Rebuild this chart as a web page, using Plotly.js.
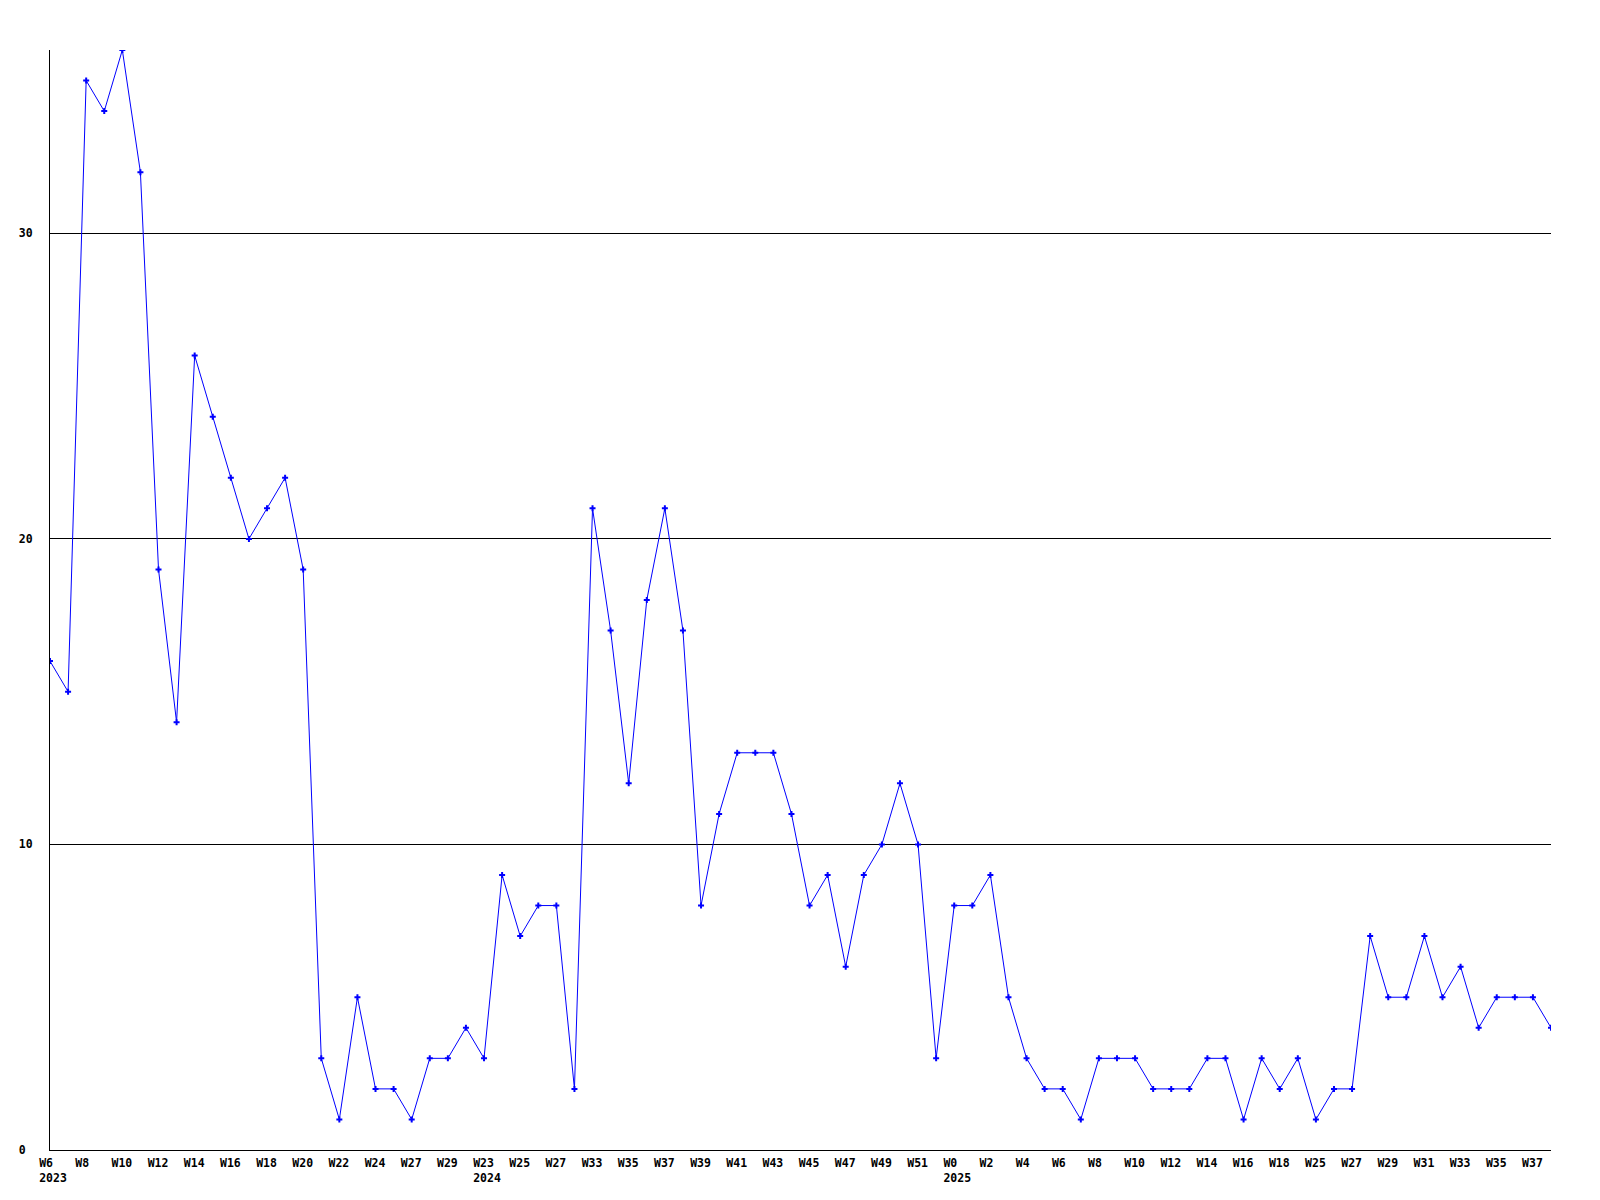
<!DOCTYPE html>
<html>
<head>
<meta charset="utf-8">
<script src="https://cdn.plot.ly/plotly-3.0.1.min.js"></script>
<style>html,body{margin:0;padding:0;background:#fff;}#chart{width:1600px;height:1200px;}</style>
</head>
<body>
<div id="chart"></div>
<script>
// Week labels for every point (odd, hidden ones estimated)
const weeks = [
  "W6","W7","W8","W9","W10","W11","W12","W13","W14","W15","W16","W17","W18","W19","W20","W21","W22","W23","W24","W25",
  "W27","W28","W29","W30",
  "W23","W24","W25","W26","W27","W28","W33","W34","W35","W36","W37","W38","W39","W40","W41","W42","W43","W44","W45","W46",
  "W47","W48","W49","W50","W51","W52",
  "W0","W1","W2","W3","W4","W5","W6","W7","W8","W9","W10","W11","W12","W13","W14","W15","W16","W17","W18","W19",
  "W25","W26","W27","W28","W29","W30","W31","W32","W33","W34","W35","W36","W37","W38"
];
// Year shown under the first labelled week of each year
const years = {0: "2023", 24: "2024", 50: "2025"};
const counts = [
  16,15,35,34,36,32,19,14,26,24,22,20,21,22,19,3,1,5,2,2,
  1,3,3,4,
  3,9,7,8,8,2,21,17,12,18,21,17,8,11,13,13,13,11,8,9,
  6,9,10,12,10,3,
  8,8,9,5,3,2,2,1,3,3,3,2,2,2,3,3,1,3,2,3,
  1,2,2,7,5,5,7,5,6,4,5,5,5,4
];
const yTicks = [0, 10, 20, 30];
const labelStep = 2;

const pad = (s, n) => s + "\u00a0".repeat(Math.max(0, n - s.length));
const xs = weeks.map((_, i) => i);
const tickvals = [], ticktext = [];
weeks.forEach((w, i) => {
  if (i % labelStep === 0) {
    tickvals.push(i);
    let t = pad(w, 4);
    if (years[i]) t += "<br>" + pad(years[i], 4);
    ticktext.push(t);
  }
});
const yText = yTicks.map(v => pad(String(v), 2));

const font = {family: "DejaVu Sans Mono, monospace", size: 11.5, color: "#000", weight: "bold"};

Plotly.newPlot("chart", [{
  x: xs, y: counts, type: "scatter", mode: "lines+markers",
  line: {color: "#0000ff", width: 1},
  marker: {color: "#0000ff", symbol: "cross", size: 5, line: {width: 0}},
  hoverinfo: "skip"
}], {
  width: 1600, height: 1200,
  margin: {l: 50, r: 49, t: 50, b: 50},
  paper_bgcolor: "#fff", plot_bgcolor: "#fff",
  showlegend: false,
  font: font,
  xaxis: {
    range: [0, weeks.length - 1], tickmode: "array", tickvals: tickvals, ticktext: ticktext,
    showgrid: false, zeroline: false, showline: true, linecolor: "#000", linewidth: 1,
    ticks: "", tickangle: 0, tickfont: font, ticklabelshift: 3, ticklabelstandoff: 2
  },
  yaxis: {
    range: [0, 36], tickmode: "array", tickvals: yTicks, ticktext: yText,
    showgrid: true, gridcolor: "#000", gridwidth: 1, zeroline: false,
    showline: true, linecolor: "#000", linewidth: 1, ticks: "", tickfont: font,
    ticklabelstandoff: 14
  }
}, {staticPlot: true});
</script>
</body>
</html>
